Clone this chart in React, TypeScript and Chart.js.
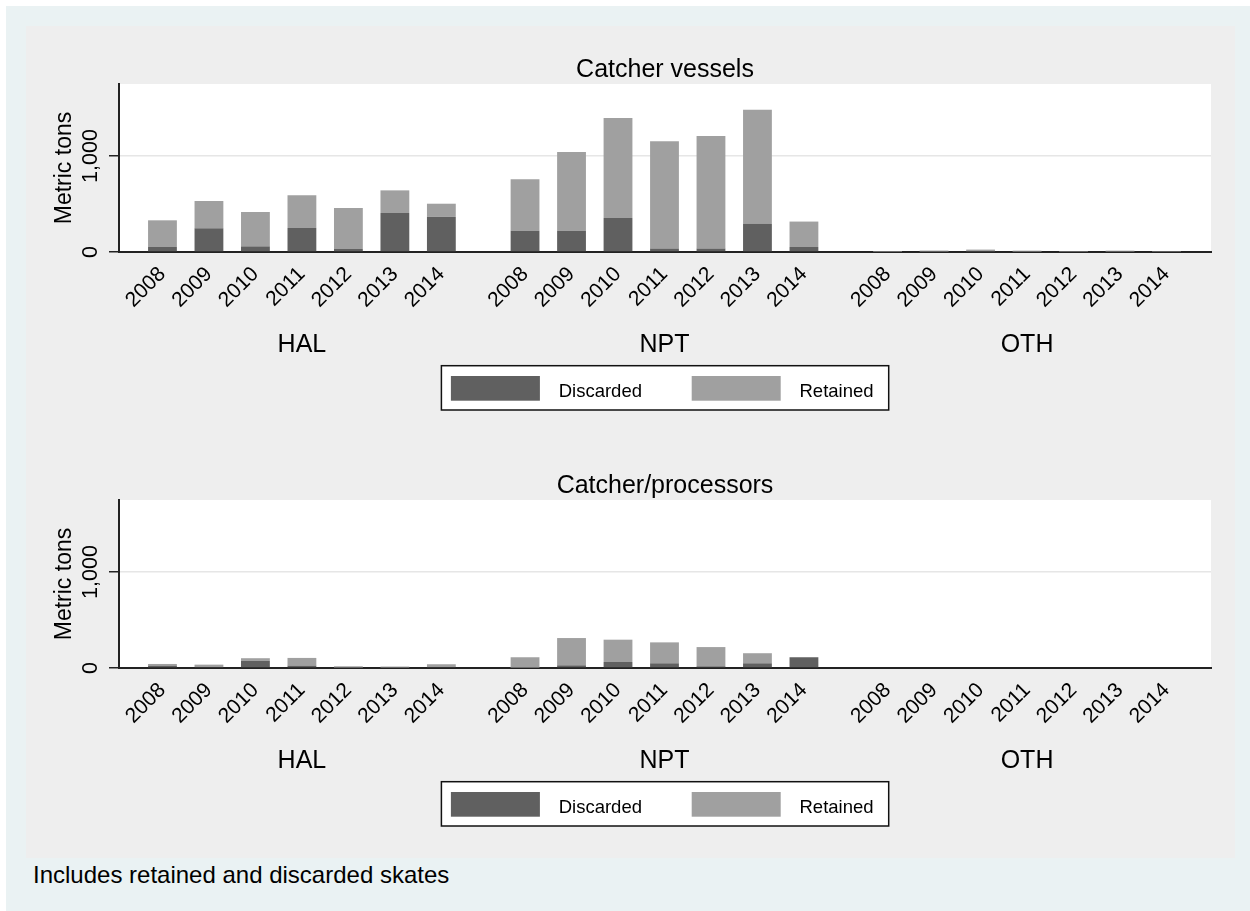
import { useEffect, useRef } from "react";
import Chart from "chart.js/auto";

const FONT = '"Liberation Sans", Arial, sans-serif';

// categories
const GROUPS = ["HAL", "NPT", "OTH"];
const YEARS = ["2008", "2009", "2010", "2011", "2012", "2013", "2014"];
const Y_TICKS = [0, 1000];
const Y_MAX = 1750;

// values in metric tons, ordered HAL 2008-2014, NPT 2008-2014, OTH 2008-2014
const CV_DISCARDED = [
  52, 247, 59, 250, 31, 406, 365,
  223, 223, 354, 35, 35, 292, 52,
  3, 5, 8, 4, 2, 5, 3,
];
const CV_RETAINED = [
  278, 284, 358, 340, 427, 236, 138,
  534, 819, 1042, 1118, 1173, 1191, 265,
  7, 10, 17, 10, 6, 9, 5,
];
const CP_DISCARDED = [
  25, 10, 74, 25, 5, 5, 10,
  3, 28, 63, 49, 18, 49, 112,
  0, 0, 0, 0, 0, 0, 0,
];
const CP_RETAINED = [
  17, 25, 28, 80, 13, 10, 29,
  109, 284, 232, 218, 200, 105, 0,
  0, 0, 0, 0, 0, 0, 0,
];

const DISCARDED_COLOR = "#606060";
const RETAINED_COLOR = "#a0a0a0";
const AXIS_COLOR = "#222";

// bars sit one unit apart inside a group, groups are 7.8 units apart
const GROUP_STRIDE = 7.8;
const pos = (g: number, i: number) => g * GROUP_STRIDE + i;
const X_POS = GROUPS.flatMap((_, g) => YEARS.map((__, i) => pos(g, i)));

const PANEL_LEFT = 26;
const PANEL_WIDTH = 1209;

const fmt = (v: number) => v.toLocaleString("en-US");

const decorPlugin = {
  id: "decor",
  beforeDraw(chart: any) {
    const { ctx, chartArea: a } = chart;
    ctx.save();
    ctx.fillStyle = "#fff";
    ctx.fillRect(a.left, a.top, a.right - a.left, a.bottom - a.top);
    ctx.restore();
  },
  afterDraw(chart: any, _args: any, opts: any) {
    const { ctx, chartArea: a, scales } = chart;
    const x = scales.x;
    const y = scales.y;
    const cx = (a.left + a.right) / 2;
    ctx.save();
    ctx.fillStyle = "#000";

    // title
    ctx.font = `25px ${FONT}`;
    ctx.textAlign = "center";
    ctx.textBaseline = "alphabetic";
    ctx.fillText(opts.title, cx, a.top - 7);

    // y tick labels, vertical
    ctx.font = `21.5px ${FONT}`;
    ctx.textBaseline = "middle";
    Y_TICKS.forEach((t) => {
      ctx.save();
      ctx.translate(a.left - 27.5, y.getPixelForValue(t));
      ctx.rotate(-Math.PI / 2);
      ctx.fillText(fmt(t), 0, 0);
      ctx.restore();
    });

    // y title
    ctx.font = `23px ${FONT}`;
    ctx.save();
    ctx.translate(a.left - 54.5, (a.top + a.bottom) / 2);
    ctx.rotate(-Math.PI / 2);
    ctx.fillText("Metric tons", 0, 0);
    ctx.restore();

    // group labels
    ctx.font = `25px ${FONT}`;
    ctx.textBaseline = "alphabetic";
    GROUPS.forEach((g, gi) => {
      const first = x.getPixelForValue(pos(gi, 0));
      const last = x.getPixelForValue(pos(gi, YEARS.length - 1));
      ctx.fillText(g, (first + last) / 2, a.bottom + 100);
    });

    // legend box
    const lx = cx - 223.6;
    const ly = a.bottom + 113.7;
    ctx.fillStyle = "#fff";
    ctx.fillRect(lx, ly, 447.3, 44.3);
    ctx.strokeStyle = "#111";
    ctx.lineWidth = 1.5;
    ctx.strokeRect(lx, ly, 447.3, 44.3);
    ctx.font = `18.5px ${FONT}`;
    ctx.textAlign = "left";
    chart.data.datasets.forEach((ds: any, i: number) => {
      const sx = lx + 9.5 + i * 240.8;
      ctx.fillStyle = ds.backgroundColor;
      ctx.fillRect(sx, ly + 10.3, 89, 24.7);
      ctx.fillStyle = "#000";
      ctx.fillText(ds.label, sx + 107.8, ly + 31);
    });
    ctx.restore();
  },
};

type PanelProps = {
  top: number;
  height: number;
  title: string;
  discarded: number[];
  retained: number[];
};

function Panel({ top, height, title, discarded, retained }: PanelProps) {
  const ref = useRef<HTMLCanvasElement | null>(null);

  useEffect(() => {
    if (!ref.current) return;
    const chart = new Chart(ref.current, {
      type: "bar",
      data: {
        datasets: [
          {
            label: "Discarded",
            data: discarded.map((v, i) => ({ x: X_POS[i], y: v })),
            backgroundColor: DISCARDED_COLOR,
            barPercentage: 0.62,
            categoryPercentage: 1,
          },
          {
            label: "Retained",
            data: retained.map((v, i) => ({ x: X_POS[i], y: v })),
            backgroundColor: RETAINED_COLOR,
            barPercentage: 0.62,
            categoryPercentage: 1,
          },
        ],
      },
      options: {
        responsive: false,
        animation: false,
        events: [],
        layout: { padding: { left: 0, right: 24, top: 58, bottom: 0 } },
        scales: {
          x: {
            type: "linear",
            stacked: true,
            offset: false,
            min: -0.935,
            max: pos(GROUPS.length - 1, YEARS.length - 1) + 0.957,
            afterBuildTicks: (scale: any) => {
              scale.ticks = X_POS.map((value) => ({ value }));
            },
            afterFit: (scale: any) => {
              scale.height = height - 226;
            },
            grid: { display: false, offset: false },
            border: { display: true, color: AXIS_COLOR, width: 2 },
            ticks: {
              autoSkip: false,
              minRotation: 45,
              maxRotation: 45,
              padding: 2,
              color: "#000",
              font: { family: FONT, size: 21 },
              callback: (_v: any, index: number) => YEARS[index % YEARS.length],
            },
          },
          y: {
            stacked: true,
            min: 0,
            max: Y_MAX,
            afterBuildTicks: (scale: any) => {
              scale.ticks = Y_TICKS.map((value) => ({ value }));
            },
            afterFit: (scale: any) => {
              scale.width = 93;
            },
            grid: {
              color: (c: any) =>
                c.tick && c.tick.value === 0 ? "rgba(0,0,0,0)" : "#e6e6e6",
              lineWidth: 1.5,
              tickColor: AXIS_COLOR,
              tickWidth: 1.5,
              tickLength: 10,
            },
            border: { display: true, color: AXIS_COLOR, width: 2 },
            ticks: { display: false },
          },
        },
        plugins: {
          legend: { display: false },
          tooltip: { enabled: false },
          decor: { title },
        } as any,
      },
      plugins: [decorPlugin],
    } as any);

    return () => {
      chart.destroy();
    };
  }, [height, title, discarded, retained]);

  return (
    <canvas
      ref={ref}
      width={PANEL_WIDTH}
      height={height}
      style={{
        position: "absolute",
        left: PANEL_LEFT,
        top,
        width: PANEL_WIDTH,
        height,
      }}
    />
  );
}

export default function App() {
  return (
    <div
      style={{
        position: "absolute",
        left: 0,
        top: 0,
        width: 1250,
        height: 911,
        background: "#fff",
        fontFamily: FONT,
        overflow: "hidden",
      }}
    >
      <div
        style={{
          position: "absolute",
          left: 6,
          top: 6,
          width: 1244,
          height: 905,
          background: "#eaf2f3",
        }}
      />
      <div
        style={{
          position: "absolute",
          left: PANEL_LEFT,
          top: 26,
          width: PANEL_WIDTH,
          height: 832,
          background: "#eeeeee",
        }}
      />
      <Panel
        top={26}
        height={414}
        title="Catcher vessels"
        discarded={CV_DISCARDED}
        retained={CV_RETAINED}
      />
      <Panel
        top={442}
        height={413}
        title="Catcher/processors"
        discarded={CP_DISCARDED}
        retained={CP_RETAINED}
      />
      <div
        style={{
          position: "absolute",
          left: 33,
          top: 863,
          fontSize: 24,
          lineHeight: "24px",
          color: "#000",
          whiteSpace: "nowrap",
        }}
      >
        Includes retained and discarded skates
      </div>
    </div>
  );
}
